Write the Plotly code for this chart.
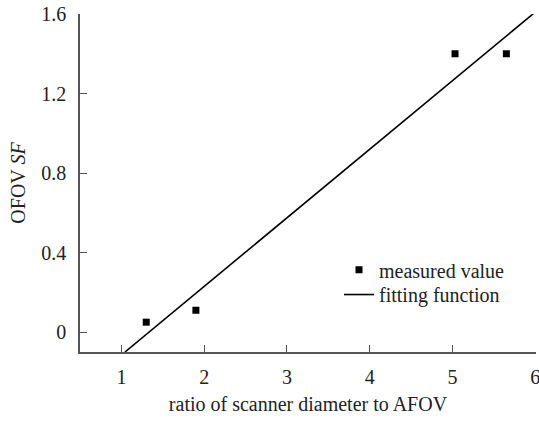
import numpy as np
import plotly.graph_objects as go

# Data
ratio = [1.3, 1.9, 5.03, 5.65]
ofov_sf = [0.05, 0.11, 1.40, 1.40]
fit_slope = 0.345
fit_intercept = -0.46
fit_x = [1.043, 6.0]
x_ticks = [1, 2, 3, 4, 5, 6]
y_ticks = [0, 0.4, 0.8, 1.2, 1.6]
y_tick_text = ["0", "0.4", "0.8", "1.2", "1.6"]

fit_y = [fit_slope * x + fit_intercept for x in fit_x]

FONT = "Liberation Serif"
AX = "#555555"
FS = 20

fig = go.Figure()
fig.add_trace(go.Scatter(
    x=ratio, y=ofov_sf, mode="markers", name="measured value",
    marker=dict(symbol="square", size=7, color="black"), legend="legend",
    showlegend=True,
))
fig.add_trace(go.Scatter(
    x=fit_x, y=fit_y, mode="lines", name="fitting function",
    line=dict(color="black", width=1.6), legend="legend2",
    showlegend=True,
))

leg_common = dict(xanchor="left", yanchor="middle", bgcolor="rgba(0,0,0,0)",
                  font=dict(family=FONT, size=FS, color="#222222"))

fig.update_layout(
    width=539, height=421,
    showlegend=True,
    margin=dict(l=80, r=3, t=14, b=69, autoexpand=False),
    paper_bgcolor="white", plot_bgcolor="white",
    font=dict(family=FONT, size=FS, color="#222222"),
    legend=dict(x=0.568, y=0.243, visible=True, **leg_common),
    legend2=dict(x=0.568, y=0.170, visible=True, **leg_common),
    xaxis=dict(
        range=[0.5, 6.008], tickvals=x_ticks, ticks="inside", ticklen=7,
        tickcolor=AX, tickwidth=1.3, showline=True, linecolor=AX, linewidth=1.5,
        showgrid=False, zeroline=False, ticklabelstandoff=6,
        ticklabeloverflow="allow", automargin=False,
        title=dict(text="ratio of scanner diameter to AFOV", standoff=10,
                   font=dict(family=FONT, size=FS)),
    ),
    yaxis=dict(
        range=[-0.1, 1.6], tickvals=y_ticks, ticktext=y_tick_text,
        ticks="inside", ticklen=7, tickcolor=AX, tickwidth=1.3,
        showline=True, linecolor=AX, linewidth=1.5,
        showgrid=False, zeroline=False, ticklabelstandoff=8,
        ticklabeloverflow="allow", automargin=False,
        title=dict(text="OFOV <i>SF</i>", standoff=10,
                   font=dict(family=FONT, size=FS)),
    ),
)

fig.write_html("out.html")
